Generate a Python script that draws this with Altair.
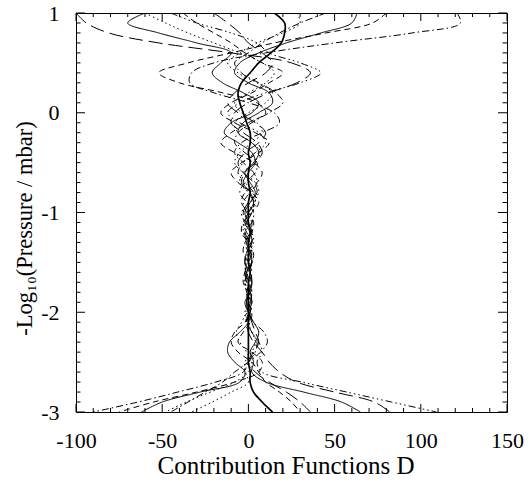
import altair as alt
import pandas as pd

# pressure levels: -log10(p / mbar)
levels = [1.0, 0.9, 0.8, 0.7, 0.6, 0.5, 0.4, 0.3, 0.2, 0.1, 0.0,
          -0.1, -0.2, -0.3, -0.4, -0.5, -0.6, -0.7, -0.8, -0.9, -1.0,
          -1.1, -1.2, -1.3, -1.4, -1.5, -1.6, -1.7, -1.8, -1.9, -2.0,
          -2.1, -2.2, -2.3, -2.4, -2.5, -2.6, -2.7, -2.8, -2.9, -3.0]

# contribution functions D (one list per curve, values at each level)
cf_a = [-60, -70, -52, -30, -10, -16, -21, -15, -3, 6, 2, -10, -14, -6, 2, 4, 0, -3, 1, 3, 0,
        -2, 1, 2, -1, -2, 1, 2, 0, -1, 1, 0, -5, -11, -12, -8, -2, -5, -28, -50, -62]
cf_b = [63, 60, 42, 22, 6, -5, -8, 0, 12, 14, 6, -3, -6, 2, 6, 3, -2, 1, 4, 1, -2,
        0, 2, -1, 1, 2, -1, 0, 1, -2, 0, 3, 6, 4, 1, 3, 2, 10, 32, 54, 65]
cf_c = [15, 21, 21, 19, 13, 6, 1, -4, -6, -5, -3, -1, 1, 1, 0, 1, 0, 0, 1, 0, 0,
        0, 1, 0, 0, 0, 1, 0, 0, 0, 0, 0, 0, 0, 0, 0, 1, 1, 3, 8, 14]
cf_d = [121, 123, 95, 50, 10, -20, -33, -34, -20, 0, 15, 18, 8, -4, -8, -3, 3, 5, 1, -3, -1,
        2, 1, -2, 0, 2, 0, -2, 1, 2, 0, -1, 2, 5, 4, 0, -3, -19, -41, -64, -90]
cf_e = [-100, -94, -81, -52, -10, 25, 36, 28, 12, 0, -8, -10, -3, 5, 8, 4, -2, -4, 0, 3, 2,
        -1, -2, 1, 2, 0, -2, -1, 1, 2, 1, -1, 0, 3, 8, 12, 18, 28, 50, 73, 82]
cf_f = [-45, -30, -10, 5, 12, 30, 42, 30, 10, -5, -12, -5, 6, 10, 4, -3, -6, -2, 3, 4, 0,
        -3, -1, 2, 1, -1, -2, 0, 2, 1, -1, 0, 2, 6, 8, 5, 8, 31, 57, 83, 109]
cf_g = [80, 72, 45, 15, -10, -35, -52, -40, -15, 5, 10, 0, -10, -16, -8, 3, 8, 5, -2, -4, 0,
        3, 2, -2, -3, 0, 2, 1, -1, 0, 2, 1, -3, -6, 2, 8, 6, -8, -30, -55, -75]
cf_h = [-60, -48, -35, -20, -5, 8, 15, 10, 0, -8, -4, 5, 8, 2, -5, -8, -3, 4, 6, 1, -4,
        -2, 2, 3, 0, -2, -1, 1, 2, 0, -2, -1, 2, 4, 2, -2, -2, 0, -10, -21, -33]
cf_k = [-38, -30, -20, -10, -2, 8, 20, 12, 2, -10, -16, -8, 4, 12, 6, -4, -10, -6, 2, 6, 2,
        -3, -4, 0, 3, 2, -2, -3, 0, 2, 1, -2, -8, -10, -6, 2, 6, 10, 18, 25, 30]
cf_l = [45, 30, 18, 8, 0, -8, -4, 6, 16, 20, 12, 2, -6, -8, -2, 5, 4, -2, -5, -1, 3,
        2, -2, -1, 1, 2, 0, -2, -1, 1, 0, 3, 9, 11, 7, 0, -8, -15, -25, -35, -45]
cf_m = [28, 30, 20, 5, -5, -12, -6, 5, 14, 10, 0, -8, -6, 2, 7, 3, -3, -5, 0, 4, 2,
        -2, -3, 0, 2, 1, -1, -2, 0, 1, -1, -4, -7, -5, -1, 2, 0, -8, -22, -36, -48]
cf_n = [-20, -12, -5, 0, 8, 14, 10, 0, -8, -12, -6, 4, 10, 6, -2, -6, -3, 3, 5, 0, -3,
        -1, 2, 2, -1, -2, 0, 2, 1, -1, 0, 2, 4, 6, 3, 0, 4, 12, 22, 30, 36]

curve_names = ["A", "B", "C", "D", "E", "F", "G", "H", "K", "L", "M", "N"]
curve_values = [cf_a, cf_b, cf_c, cf_d, cf_e, cf_f, cf_g, cf_h, cf_k, cf_l, cf_m, cf_n]
curve_styles = ["solid", "solid", "solid", "dashdot", "longdash", "dash3dot",
                "dashed", "dotted", "dashed", "dashdot", "dotted", "longdash"]
curve_widths = [1.0, 1.0, 1.7, 1.0, 1.0, 1.0, 1.0, 1.0, 1.0, 1.0, 1.0, 1.0]

style_names = ["solid", "dotted", "dashed", "dashdot", "dash3dot", "longdash"]
style_dashes = [[1, 0], [1.5, 3], [6, 4], [7, 3, 1.5, 3], [7, 3, 1.5, 3, 1.5, 3, 1.5, 3], [14, 6]]

x_major = [-100, -50, 0, 50, 100, 150]
x_minor = [-90, -80, -70, -60, -40, -30, -20, -10, 10, 20, 30, 40, 60, 70, 80, 90,
           110, 120, 130, 140]
y_major = [-3, -2, -1, 0, 1]
y_minor = [-2.9, -2.8, -2.7, -2.6, -2.5, -2.4, -2.3, -2.2, -2.1,
           -1.9, -1.8, -1.7, -1.6, -1.5, -1.4, -1.3, -1.2, -1.1,
           -0.9, -0.8, -0.7, -0.6, -0.5, -0.4, -0.3, -0.2, -0.1,
           0.1, 0.2, 0.3, 0.4, 0.5, 0.6, 0.7, 0.8, 0.9]

rows = []
for name, vals, sty, w in zip(curve_names, curve_values, curve_styles, curve_widths):
    for i, (lv, d) in enumerate(zip(levels, vals)):
        rows.append({"curve": name, "i": i, "L": lv, "D": d, "style": sty, "w": w})
df = pd.DataFrame(rows)

W, H = 431, 399
FONT = "Liberation Serif, Times New Roman, serif"
XT = "Contribution Functions D"
YT = "-Log\u2081\u2080(Pressure / mbar)"
xs = alt.Scale(domain=[-100, 150], nice=False, zero=False)
ys = alt.Scale(domain=[-3, 1], nice=False, zero=False)

x_axis = alt.Axis(
    values=x_major, ticks=False, tickSize=0, domain=False, grid=False,
    labelFont=FONT, labelFontSize=22, labelColor="black", labelPadding=35,
    labelBaseline="alphabetic", labelFlush=False, labelOverlap=False,
    labelExpr="datum.value + ''",
    title=XT, titleFont=FONT, titleFontSize=25,
    titleFontWeight="normal", titleColor="black",
    titleX=W / 2 - 6, titleY=61, titleBaseline="alphabetic", titleAlign="center")
y_axis = alt.Axis(
    values=y_major, ticks=False, tickSize=0, domain=False, grid=False,
    labelFont=FONT, labelFontSize=22, labelColor="black", labelPadding=17,
    labelFlush=False, labelOverlap=False,
    labelExpr="datum.value + ''",
    title=YT, titleFont=FONT, titleFontSize=22.5,
    titleFontWeight="normal", titleColor="black",
    titleX=-45, titleY=215, titleAngle=270, titleBaseline="alphabetic",
    titleAlign="center")

lines = alt.Chart(df).mark_line(interpolate="catmull-rom", color="black", clip=True).encode(
    x=alt.X("D:Q", scale=xs, axis=x_axis, title=XT),
    y=alt.Y("L:Q", scale=ys, axis=y_axis, title=YT),
    detail="curve:N",
    order="i:Q",
    strokeDash=alt.StrokeDash("style:N", scale=alt.Scale(domain=style_names, range=style_dashes),
                              legend=None),
    strokeWidth=alt.StrokeWidth("w:Q", scale=None),
)

xmaj = pd.DataFrame({"D": x_major})
xmin = pd.DataFrame({"D": x_minor})
ymaj = pd.DataFrame({"L": y_major})
ymin = pd.DataFrame({"L": y_minor})


def xticks(data, length):
    bottom = alt.Chart(data).mark_rule(color="black", strokeWidth=1).encode(
        x=alt.X("D:Q", scale=xs, title=XT),
        y=alt.value(H), y2=alt.value(H - length))
    top = alt.Chart(data).mark_rule(color="black", strokeWidth=1).encode(
        x=alt.X("D:Q", scale=xs, title=XT),
        y=alt.value(0), y2=alt.value(length))
    return [bottom, top]


def yticks(data, length):
    left = alt.Chart(data).mark_rule(color="black", strokeWidth=1).encode(
        y=alt.Y("L:Q", scale=ys, title=YT),
        x=alt.value(0), x2=alt.value(length))
    right = alt.Chart(data).mark_rule(color="black", strokeWidth=1).encode(
        y=alt.Y("L:Q", scale=ys, title=YT),
        x=alt.value(W), x2=alt.value(W - length))
    return [left, right]


layers = [lines] + xticks(xmaj, 8) + xticks(xmin, 4) + yticks(ymaj, 9) + yticks(ymin, 4.5)

chart = alt.layer(*layers).properties(
    width=W, height=H,
    autosize=alt.AutoSizeParams(type="none"),
    padding={"left": 76, "top": 13, "right": 21, "bottom": 69},
    background="white",
).configure_view(stroke="black", strokeWidth=1)

chart.save("out.html", embed_options={"renderer": "svg", "actions": False})
